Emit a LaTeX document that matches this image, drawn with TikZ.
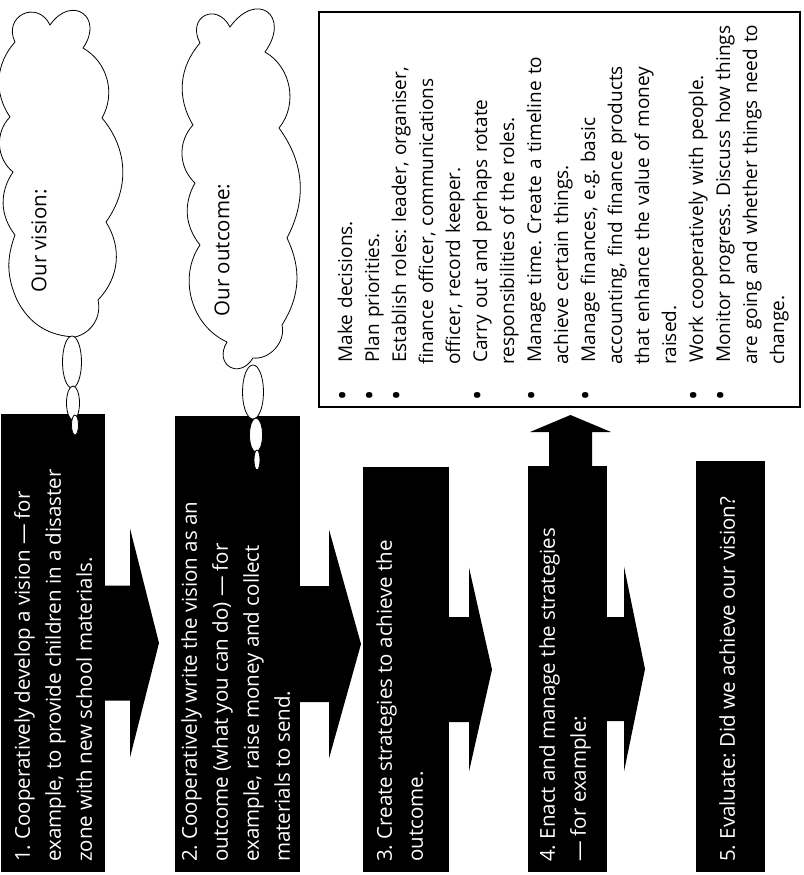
\documentclass[tikz,border=0pt]{standalone}
\usepackage{fontspec}
\setmainfont{Open Sans}
\usetikzlibrary{calc}
\frenchspacing

\tikzset{
  stepbox/.style={fill=black,rotate=90,inner sep=0pt,outer sep=0pt},
  steptext/.style={rotate=90,anchor=north west,text=white,align=left,inner xsep=10pt,inner ysep=0pt,font=\fontsize{20.5pt}{31pt}\selectfont},
  cloudline/.style={draw,line width=0.8pt,line join=miter},
  puff/.style={bend left=#1},
  tallpuff/.style={bend left=90,looseness=#1},
  bubble/.style={draw,fill=white,line width=0.8pt},
  cloudtext/.style={rotate=90,inner sep=0pt,font=\fontsize{20.5pt}{24pt}\selectfont},
}
% node, shaft length, head length, shaft half, head half
\newcommand{\flowarrow}[5]{%
  \fill (#1.south) ++(0,-#4) -- ++(#2,0) -- ++(0,#4-#5) -- ++(#3,#5) -- ++(-#3,#5) -- ++(0,#4-#5) -- ++(-#2,0) -- cycle;}
\newcommand{\bigdot}{{\fontsize{27pt}{27pt}\selectfont\textbullet}}

\begin{document}
\begin{tikzpicture}[x=1pt,y=-1pt]
  \useasboundingbox (0,0) rectangle (803,875);
  \draw[cloudline] (15,42) to[tallpuff=1.9] (50,25) to[tallpuff=2.4] (83,48) to[puff=45] (102,118)
    to[puff=38] (106,222) to[puff=38] (98,300) to[puff=45] (75,337) to[puff=30] (17,300)
    to[puff=22] (15,235) to[puff=36] (13,172) to[puff=48] (10,117) to[puff=38] (15,42);
  \draw[cloudline] (200,43) to[tallpuff=2.2] (230,27) to[tallpuff=2.7] (265,52) to[puff=50] (279,128)
    to[puff=32] (287,238) to[puff=29] (282,325) to[puff=55] (253,358) to[tallpuff=2.2] (227,342)
    to[puff=50] (200,245) to[puff=34] (195,183) to[puff=45] (193,125) to[puff=36] (200,43);
  \node[cloudtext] (vision) at (39,241) {Our vision:};
  \node[cloudtext] (outcome) at (222,250) {Our outcome:};

  \node[stepbox,minimum width=458pt,minimum height=104pt] (b1) at (53,643) {};
  \node[stepbox,minimum width=456pt,minimum height=125pt] (b2) at (237.5,644) {};
  \node[stepbox,minimum width=405pt,minimum height=86pt] (b3) at (406,669.5) {};
  \node[stepbox,minimum width=406pt,minimum height=79pt] (b4) at (567.5,669) {};
  \node[stepbox,minimum width=411pt,minimum height=69pt] (b5) at (730.5,666.5) {};

  \node[steptext] (t1) at ($(b1.north west)+(13,0)$) {1. Cooperatively develop a vision — for\\example, to provide children in a disaster\\zone with new school materials.};
  \node[steptext] (t2) at ($(b2.north west)+(6,0)$) {2. Cooperatively write the vision as an\\outcome (what you can do) — for\\example, raise money and collect\\materials to send.};
  \node[steptext] (t3) at ($(b3.north west)+(13,0)$) {3. Create strategies to achieve the\\outcome.};
  \node[steptext] (t4) at ($(b4.north west)+(11,0)$) {4. Enact and manage the strategies\\— for example:};
  \node[steptext] (t5) at ($(b5.north west)+(23,0)$) {5. Evaluate: Did we achieve our vision?};

  \flowarrow{b1}{25}{29}{57.5}{114.5}
  \flowarrow{b2}{29}{32}{58}{114.5}
  \flowarrow{b3}{20}{23}{52.5}{102}
  \flowarrow{b4}{17}{21}{52}{102.5}

  \node[draw,line width=2pt,minimum width=481pt,minimum height=395pt,inner sep=0pt,outer sep=0pt] (lst) at (559.5,209.5) {};
  \node[rotate=90,anchor=north west,align=left,text width=400pt,inner xsep=6pt,inner ysep=6pt,font=\fontsize{19pt}{27pt}\selectfont] (tasks) at (lst.south west) {%
    \begin{list}{\bigdot}{\setlength{\leftmargin}{36pt}\setlength{\labelwidth}{8pt}\setlength{\labelsep}{28pt}%
      \setlength{\itemsep}{0pt}\setlength{\topsep}{0pt}\setlength{\parsep}{0pt}\setlength{\partopsep}{0pt}}
    \item Make decisions.
    \item Plan priorities.
    \item Establish roles: leader, organiser,\newline finance officer, communications\newline officer, record keeper.
    \item Carry out and perhaps rotate\newline responsibilities of the roles.
    \item Manage time. Create a timeline to\newline achieve certain things.
    \item Manage finances, e.g. basic\newline accounting, find finance products\newline that enhance the value of money\newline raised.
    \item Work cooperatively with people.
    \item Monitor progress. Discuss how things\newline are going and whether things need to\newline change.
    \end{list}};

  \fill ($(b4.east)+(3,0)$) ++(-21.5,0) -- ++(0,-34) -- ++(-19,0) -- ++(40.5,-17) -- ++(40.5,17) -- ++(-19,0) -- ++(0,34) -- cycle;

  \draw[bubble] (72,362) ellipse [x radius=9.5pt,y radius=26pt];
  \draw[bubble] (73,403) ellipse [x radius=6.5pt,y radius=17pt];
  \draw[bubble] (75,425) ellipse [x radius=3.5pt,y radius=10pt];
  \draw[bubble] (253,392) ellipse [x radius=10.5pt,y radius=27pt];
  \draw[bubble] (256,435) ellipse [x radius=6.5pt,y radius=17pt];
  \draw[bubble] (257,460) ellipse [x radius=3pt,y radius=10pt];
\end{tikzpicture}
\end{document}
